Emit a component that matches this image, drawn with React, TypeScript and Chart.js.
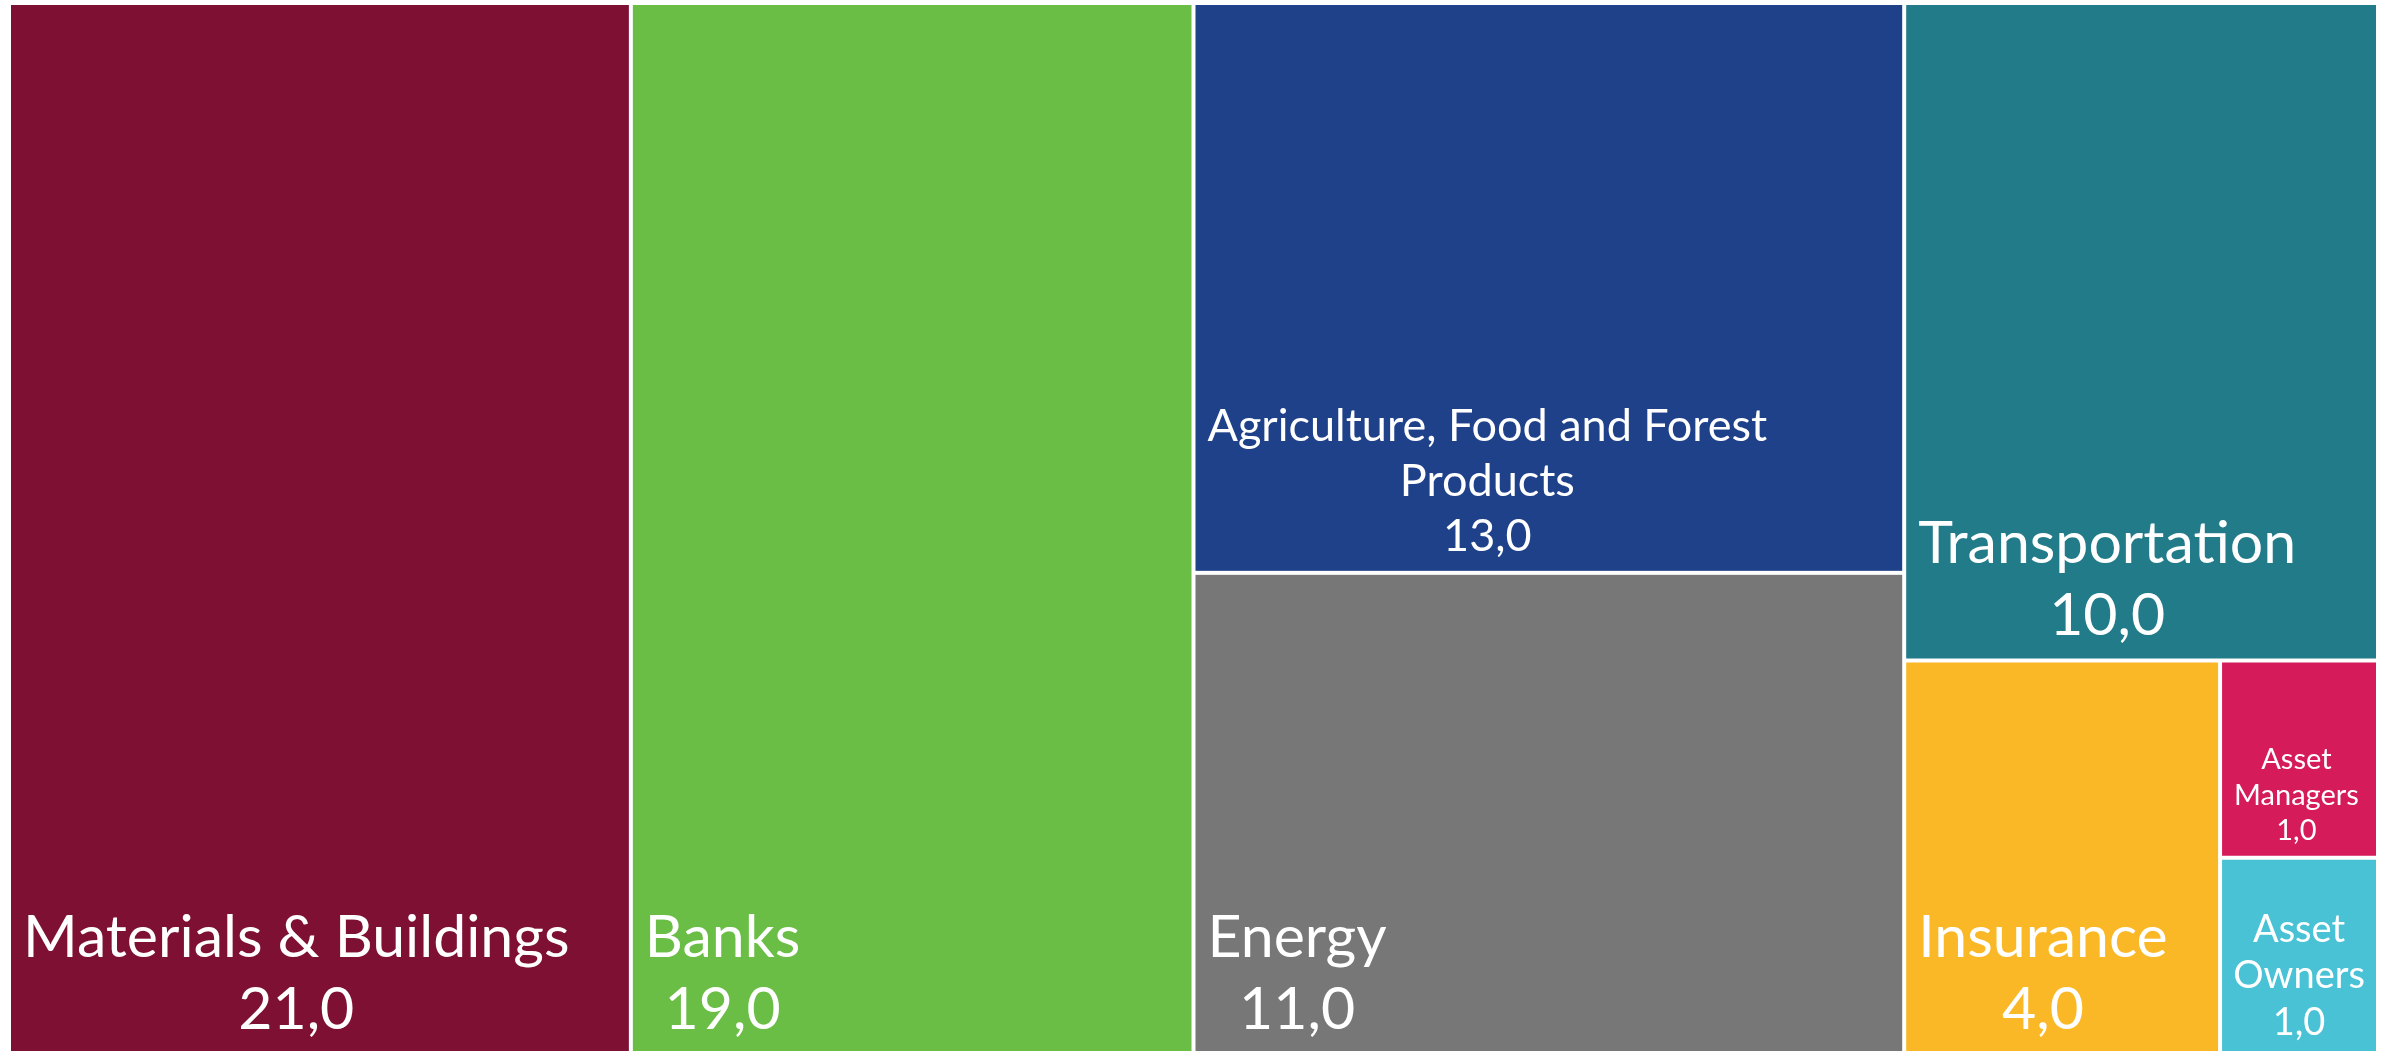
import React, { useEffect, useRef } from "react";
import { Chart, registerables } from "chart.js";

Chart.register(...registerables);

// ---- data ----
const categories: string[] = [
  "Materials & Buildings",
  "Banks",
  "Agriculture, Food and Forest Products",
  "Energy",
  "Transportation",
  "Insurance",
  "Asset Managers",
  "Asset Owners",
];
const values: number[] = [21, 19, 13, 11, 10, 4, 1, 1];

// ---- styles ----
const colors: string[] = [
  "#7E1034",
  "#6ABD45",
  "#1F418A",
  "#777777",
  "#217B88",
  "#FBB826",
  "#D61B5B",
  "#48C2D4",
];
const labelFontSizes: number[] = [59, 59, 45, 59, 59, 59, 29, 38];
const FONT = 'Lato, "Open Sans", sans-serif';

type R = { x: number; y: number; w: number; h: number };

function squarify(vals: number[], W: number, H: number): R[] {
  const total = vals.reduce((a, b) => a + b, 0);
  const areas = vals.map((v) => (v * W * H) / total);
  const out: R[] = [];
  let x = 0, y = 0, w = W, h = H;
  const worst = (row: number[], side: number) => {
    const s = row.reduce((a, b) => a + b, 0);
    const mx = Math.max(...row), mn = Math.min(...row);
    return Math.max((mx * side * side) / (s * s), (s * s) / (side * side * mn));
  };
  const layoutRow = (row: number[]) => {
    const s = row.reduce((a, b) => a + b, 0);
    if (w >= h) {
      const cw = s / h;
      let yy = y;
      row.forEach((a) => {
        const hh = a / cw;
        out.push({ x, y: yy, w: cw, h: hh });
        yy += hh;
      });
      x += cw;
      w -= cw;
    } else {
      const rh = s / w;
      let xx = x;
      row.forEach((a) => {
        const ww = a / rh;
        out.push({ x: xx, y, w: ww, h: rh });
        xx += ww;
      });
      y += rh;
      h -= rh;
    }
  };
  let row: number[] = [];
  let i = 0;
  while (i < areas.length) {
    const side = Math.min(w, h);
    const next = areas[i];
    if (row.length === 0 || worst([...row, next], side) <= worst(row, side)) {
      row.push(next);
      i++;
    } else {
      layoutRow(row);
      row = [];
    }
  }
  if (row.length) layoutRow(row);
  return out;
}

const fmt = (v: number) => v.toFixed(1).replace(".", ",");

const treemapPlugin = {
  id: "treemap",
  afterDatasetsDraw(chart: any, _args: any, opts: any) {
    const { ctx, chartArea } = chart;
    const xs = chart.scales.x;
    const ys = chart.scales.y;
    const labels: string[] = opts.labels;
    const vals: number[] = opts.values;
    const cols: string[] = opts.colors;
    const sizes: number[] = opts.fontSizes;
    const pw = chartArea.right - chartArea.left;
    const ph = chartArea.bottom - chartArea.top;
    // layout in pixel proportion, then convert to scale values (0..100)
    const rects = squarify(vals, pw, ph).map((r) => ({
      x0: (r.x / pw) * 100,
      x1: ((r.x + r.w) / pw) * 100,
      y0: 100 - (r.y / ph) * 100,
      y1: 100 - ((r.y + r.h) / ph) * 100,
    }));
    const gap = 2;
    ctx.save();
    rects.forEach((r, i) => {
      const l = xs.getPixelForValue(r.x0) + gap;
      const rr = xs.getPixelForValue(r.x1) - gap;
      const t = ys.getPixelForValue(r.y0) + gap;
      const b = ys.getPixelForValue(r.y1) - gap;
      ctx.fillStyle = cols[i];
      ctx.fillRect(l, t, rr - l, b - t);

      // labels
      const fs = sizes[i];
      const pad = 12;
      ctx.font = `${fs}px ${FONT}`;
      const maxW = rr - l - 2 * pad;
      const words = labels[i].split(" ");
      const lines: string[] = [];
      let cur = "";
      words.forEach((wd) => {
        const test = cur ? cur + " " + wd : wd;
        if (ctx.measureText(test).width <= maxW || !cur) cur = test;
        else {
          lines.push(cur);
          cur = wd;
        }
      });
      if (cur) lines.push(cur);
      lines.push(fmt(vals[i]));
      const blockW = Math.max(...lines.map((s) => ctx.measureText(s).width));
      let blockL = l + pad;
      if (blockW > maxW) blockL = (l + rr) / 2 - blockW / 2;
      const cx = blockL + blockW / 2;
      const lh = fs * 1.22;
      const lastBase = b - (8 + 0.27 * fs);
      ctx.fillStyle = "#FFFFFF";
      ctx.textAlign = "center";
      ctx.textBaseline = "alphabetic";
      lines.forEach((s, k) => {
        const yb = lastBase - (lines.length - 1 - k) * lh;
        ctx.fillText(s, cx, yb);
      });
    });
    ctx.restore();
  },
};

export default function App() {
  const ref = useRef<HTMLCanvasElement | null>(null);
  useEffect(() => {
    if (!ref.current) return;
    const chart = new Chart(ref.current, {
      type: "scatter",
      data: {
        labels: categories,
        datasets: [{ label: "Sectors", data: [], pointRadius: 0 }],
      },
      options: {
        animation: false,
        responsive: true,
        maintainAspectRatio: false,
        layout: { padding: { left: 9, top: 3, right: 13, bottom: 3 } },
        scales: {
          x: { type: "linear", min: 0, max: 100, display: false },
          y: { type: "linear", min: 0, max: 100, display: false },
        },
        plugins: {
          legend: { display: false },
          tooltip: { enabled: false },
          treemap: {
            labels: categories,
            values: values,
            colors: colors,
            fontSizes: labelFontSizes,
          },
        } as any,
      },
      plugins: [treemapPlugin],
    });
    return () => chart.destroy();
  }, []);
  return (
    <div
      style={{
        position: "fixed",
        left: 0,
        top: 0,
        width: 2391,
        height: 1058,
        background: "#FFFFFF",
      }}
    >
      <canvas ref={ref} />
    </div>
  );
}
